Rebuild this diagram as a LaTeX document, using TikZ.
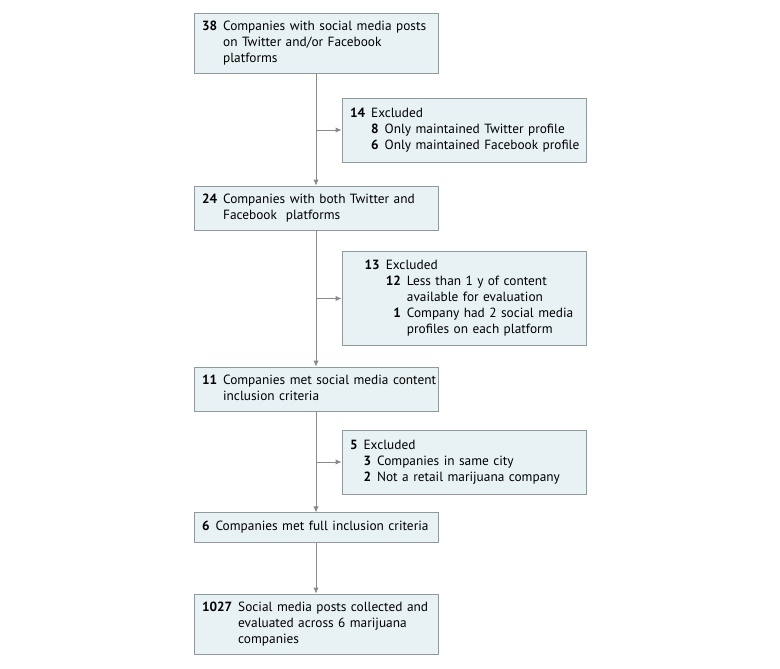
\documentclass[tikz,border=0pt]{standalone}
\usepackage{fontspec}
\setmainfont{PT Sans}
\usetikzlibrary{arrows.meta}
\definecolor{boxfill}{HTML}{E8F1F3}
\definecolor{boxline}{HTML}{8E9A9E}
\definecolor{flowline}{HTML}{8A8A8A}
\newcommand{\cnt}[1]{\textbf{#1}}

\begin{document}
\begin{tikzpicture}[x=0.75pt,y=-0.75pt,font=\fontsize{10}{12}\selectfont,
  stage/.style={draw=boxline,fill=boxfill,line width=0.6pt,minimum width=183pt,
    text width=171pt,inner xsep=6pt,align=left,anchor=center},
  flow/.style={draw=flowline,line width=0.6pt,-{Latex[length=4.5pt,width=4pt]}}]
\path[use as bounding box] (0,0) rectangle (780,668);
\node[stage,minimum height=45pt] (posts) at (316,43)
{\begin{tabular}{@{}r@{\hspace{4.5pt}}l@{}}\cnt{38} & Companies with social media posts\\
 & on Twitter and/or Facebook\\ & platforms\end{tabular}};
\node[stage,minimum height=48pt] (excl1) at (464,130)
{\begin{tabular}{@{}r@{\hspace{4.5pt}}l@{}}\cnt{14} & Excluded\\
 & \begin{tabular}[t]{@{}r@{\hspace{4.5pt}}l@{}}\cnt{8} & Only maintained Twitter profile\\
 \cnt{6} & Only maintained Facebook profile\end{tabular}\end{tabular}};
\node[stage,minimum height=33pt] (both) at (316,208)
{\begin{tabular}{@{}r@{\hspace{4.5pt}}l@{}}\cnt{24} & Companies with both Twitter and\\
 & Facebook\ \ platforms\end{tabular}};
\node[stage,minimum height=71pt] (excl2) at (464,298.5)
{\hspace*{11pt}\begin{tabular}{@{}r@{\hspace{4.5pt}}l@{}}\cnt{13} & Excluded\\
 & \begin{tabular}[t]{@{}r@{\hspace{4.5pt}}l@{}}\cnt{12} & Less than 1 y of content\\
 & available for evaluation\\
 \cnt{1} & Company had 2 social media\\ & profiles on each platform\end{tabular}\end{tabular}};
\node[stage,minimum height=33pt] (content) at (316,389)
{\begin{tabular}{@{}r@{\hspace{4.5pt}}l@{}}\cnt{11} & Companies met social media content\\
 & inclusion criteria\end{tabular}};
\node[stage,minimum height=48pt] (excl3) at (464,462)
{\begin{tabular}{@{}r@{\hspace{4.5pt}}l@{}}\cnt{5} & Excluded\\
 & \begin{tabular}[t]{@{}r@{\hspace{4.5pt}}l@{}}\cnt{3} & Companies in same city\\
 \cnt{2} & Not a retail marijuana company\end{tabular}\end{tabular}};
\node[stage,minimum height=22pt] (full) at (316,527.5)
{\begin{tabular}{@{}r@{\hspace{4.5pt}}l@{}}\cnt{6} & Companies met full inclusion criteria\end{tabular}};
\node[stage,minimum height=45pt] (final) at (316,624)
{\begin{tabular}{@{}r@{\hspace{4.5pt}}l@{}}\cnt{1027} & Social media posts collected and\\
 & evaluated across 6 marijuana\\ & companies\end{tabular}};
\draw[flow] (posts) -- (both);
\draw[flow] (posts |- excl1) -- (excl1);
\draw[flow] (both) -- (content);
\draw[flow] (both |- excl2) -- (excl2);
\draw[flow] (content) -- (full);
\draw[flow] (content |- excl3) -- (excl3);
\draw[flow] (full) -- (final);
\end{tikzpicture}
\end{document}
